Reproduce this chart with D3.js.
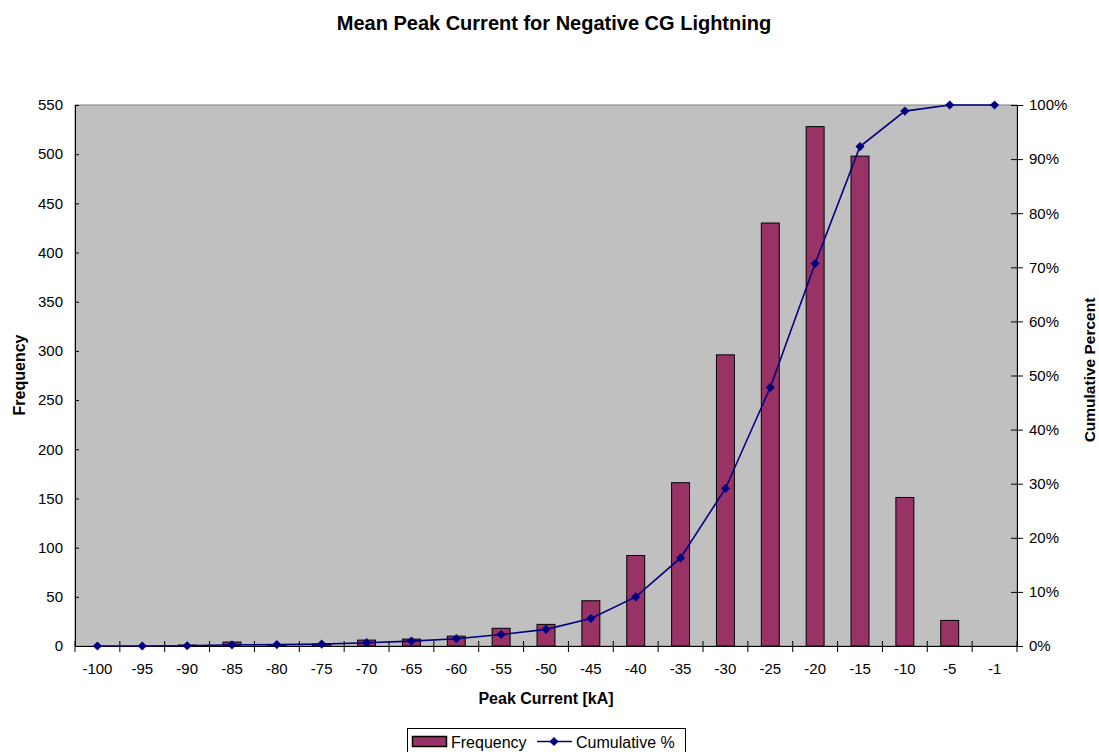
<!DOCTYPE html>
<html>
<head>
<meta charset="utf-8">
<script src="https://cdn.jsdelivr.net/npm/d3@7"></script>
<style>
  html, body { margin: 0; padding: 0; background: #fff; }
  svg { display: block; font-family: "Liberation Sans", Arial, sans-serif; }
</style>
</head>
<body>
<svg id="chart" width="1099" height="752"></svg>
<script>
// Peak current bins (kA)
const categories = ["-100","-95","-90","-85","-80","-75","-70","-65","-60","-55","-50","-45","-40","-35","-30","-25","-20","-15","-10","-5","-1"];
// Number of strokes in each bin
const frequency = [0,0,1,4,1,2,6,7,10,18,22,46,92,166,296,430,528,498,151,26,0];
// Cumulative percentage at each bin
const cumulative = [0,0,0.04,0.22,0.26,0.35,0.61,0.91,1.35,2.13,3.08,5.08,9.07,16.28,29.12,47.79,70.70,92.32,98.87,100,100];
const leftTicks = [0,50,100,150,200,250,300,350,400,450,500,550];
const rightTicks = [0,10,20,30,40,50,60,70,80,90,100];

const svg = d3.select("#chart");
const plot = { left: 75, right: 1017, top: 105, bottom: 646 };

const x = d3.scaleBand().domain(categories).range([plot.left, plot.right]).paddingInner(0).paddingOuter(0);
const yL = d3.scaleLinear().domain([0, 550]).range([plot.bottom, plot.top]);
const yR = d3.scaleLinear().domain([0, 100]).range([plot.bottom, plot.top]);

// Plot background
svg.append("rect")
  .attr("x", plot.left).attr("y", plot.top)
  .attr("width", plot.right - plot.left).attr("height", plot.bottom - plot.top)
  .attr("fill", "#c0c0c0").attr("stroke", "#808080").attr("stroke-width", 1);

// Title
svg.append("text").attr("x", 554).attr("y", 30).attr("text-anchor", "middle")
  .attr("font-size", 20).attr("font-weight", "bold").text("Mean Peak Current for Negative CG Lightning");

// Bars
const barW = x.bandwidth() * 0.4;
svg.append("g").selectAll("rect").data(frequency).join("rect")
  .attr("x", (d, i) => x(categories[i]) + (x.bandwidth() - barW) / 2)
  .attr("y", d => yL(d))
  .attr("width", barW)
  .attr("height", d => plot.bottom - yL(d))
  .attr("fill", "#993366").attr("stroke", "#000").attr("stroke-width", 1)
  .attr("display", d => d > 0 ? null : "none");

// Left axis
const gL = svg.append("g").attr("transform", `translate(${plot.left},0)`)
  .call(d3.axisLeft(yL).tickValues(leftTicks).tickSizeInner(5).tickSizeOuter(0).tickPadding(7));
gL.selectAll(".tick line").attr("x2", 4);
// Right axis
const gR = svg.append("g").attr("transform", `translate(${plot.right},0)`)
  .call(d3.axisRight(yR).tickValues(rightTicks).tickFormat(d => d + "%").tickSizeInner(6).tickSizeOuter(0).tickPadding(6));
gR.selectAll(".tick line").attr("x1", -6);
// Bottom axis with tick marks on category boundaries
const gB = svg.append("g").attr("transform", `translate(0,${plot.bottom})`)
  .call(d3.axisBottom(x).tickSize(0).tickPadding(17));
svg.append("g").selectAll("line").data(d3.range(categories.length + 1)).join("line")
  .attr("x1", i => plot.left + i * x.step()).attr("x2", i => plot.left + i * x.step())
  .attr("y1", plot.bottom - 5).attr("y2", plot.bottom + 6)
  .attr("stroke", "#000").attr("stroke-width", 1);

[gL, gR, gB].forEach(g => {
  g.selectAll("text").attr("font-size", 15).attr("fill", "#000").attr("font-family", "Liberation Sans, Arial, sans-serif");
  g.selectAll("line, path").attr("stroke", "#000");
});

// Cumulative line
const cx = (d, i) => x(categories[i]) + x.bandwidth() / 2;
const line = d3.line().x(cx).y(d => yR(d));
svg.append("path").datum(cumulative).attr("d", line)
  .attr("fill", "none").attr("stroke", "#000080").attr("stroke-width", 1.6);
svg.append("g").selectAll("path").data(cumulative).join("path")
  .attr("transform", (d, i) => `translate(${cx(d, i)},${yR(d)}) rotate(45)`)
  .attr("d", d3.symbol().type(d3.symbolSquare).size(42))
  .attr("fill", "#000080");

// Axis titles
svg.append("text").attr("x", 546).attr("y", 704).attr("text-anchor", "middle")
  .attr("font-size", 16).attr("font-weight", "bold").text("Peak Current [kA]");
svg.append("text").attr("transform", "translate(25,375) rotate(-90)").attr("text-anchor", "middle")
  .attr("font-size", 16).attr("font-weight", "bold").text("Frequency");
svg.append("text").attr("transform", "translate(1095,370) rotate(-90)").attr("text-anchor", "middle")
  .attr("font-size", 15.5).attr("font-weight", "bold").text("Cumulative Percent");

// Legend
const lg = svg.append("g");
lg.append("rect").attr("x", 407.5).attr("y", 728.5).attr("width", 278).attr("height", 30)
  .attr("fill", "#fff").attr("stroke", "#000").attr("stroke-width", 1);
lg.append("rect").attr("x", 412.5).attr("y", 736.5).attr("width", 34).attr("height", 10)
  .attr("fill", "#993366").attr("stroke", "#000").attr("stroke-width", 1.5);
lg.append("text").attr("x", 451).attr("y", 748).attr("font-size", 16).text("Frequency");
lg.append("line").attr("x1", 537).attr("x2", 572).attr("y1", 741.5).attr("y2", 741.5)
  .attr("stroke", "#000080").attr("stroke-width", 1.6);
lg.append("path").attr("transform", "translate(554,741.5) rotate(45)")
  .attr("d", d3.symbol().type(d3.symbolSquare).size(42)).attr("fill", "#000080");
lg.append("text").attr("x", 576).attr("y", 748).attr("font-size", 16).text("Cumulative %");
</script>
</body>
</html>
